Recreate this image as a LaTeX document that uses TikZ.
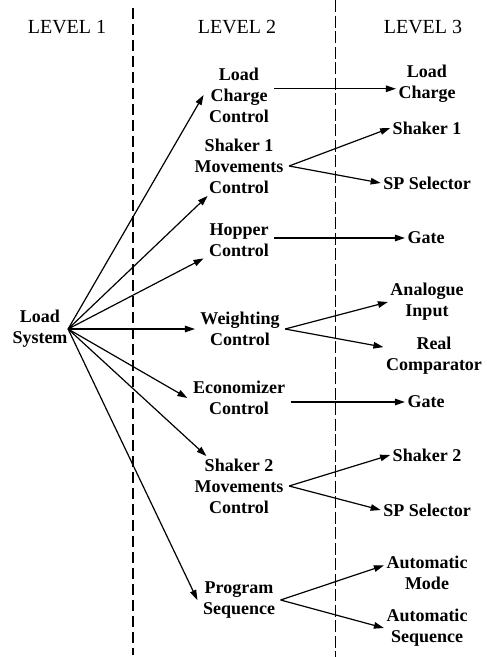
\documentclass[tikz,border=0pt]{standalone}
\usepackage{fontspec}
\setmainfont{Liberation Serif}
\usetikzlibrary{arrows.meta}

\begin{document}
\begin{tikzpicture}[
    x=1pt, y=-1pt,
    every path/.style={line width=1.2pt},
    lvlhead/.style={font=\fontsize{20}{24}\selectfont, inner sep=0pt},
    blk/.style={align=center, font=\bfseries\fontsize{18}{21}\selectfont, inner xsep=5pt, inner ysep=2pt},
    leaf/.style={blk, inner xsep=2pt},
    arr/.style={-{Triangle[length=10pt,width=6.5pt]}}
]
\useasboundingbox (0,0) rectangle (487,657);

    % level borders
    \draw [line width=2.4pt, dash pattern=on 11pt off 5pt] (133,8) -- (133,655);
    \draw [line width=0.9pt, dash pattern=on 12pt off 3.5pt] (335,0) -- (335,657);

    \node [lvlhead] (hd1) at (67,27) {LEVEL 1};
    \node [lvlhead] (hd2) at (237,27) {LEVEL 2};
    \node [lvlhead] (hd3) at (423,27) {LEVEL 3};

    \node [blk, inner xsep=0pt] (ls) at (40,329) {Load\\System};

    \node [blk] (lcc) at (239,95) {Load\\Charge\\Control};
    \node [blk] (s1m) at (239,166) {Shaker 1\\Movements\\Control};
    \node [blk] (hc) at (239,240) {Hopper\\Control};
    \node [blk] (wc) at (240,329) {Weighting\\Control};
    \node [blk] (ec) at (239,398) {Economizer\\Control};
    \node [blk] (s2m) at (239,486) {Shaker 2\\Movements\\Control};
    \node [blk] (ps) at (239,600) {Program\\Sequence};

    \node [leaf] (lc) at (427,84) {Load\\Charge};
    \node [leaf] (sh1) at (427,128) {Shaker 1};
    \node [leaf] (sp1) at (427,183) {SP Selector};
    \node [leaf] (g1) at (426,238) {Gate};
    \node [leaf] (ai) at (427,302) {Analogue\\Input};
    \node [leaf] (rc) at (434,356) {Real\\Comparator};
    \node [leaf] (g2) at (426,402) {Gate};
    \node [leaf] (sh2) at (427,455) {Shaker 2};
    \node [leaf] (sp2) at (427,510) {SP Selector};
    \node [leaf] (am) at (427,573) {Automatic\\Mode};
    \node [leaf] (asq) at (427,628) {Automatic\\Sequence};

    % level 1 -> level 2
    \draw [arr] (ls.east) -- (lcc.west);
    \draw [arr] (ls.east) -- (s1m);
    \draw [arr] (ls.east) -- (hc);
    \draw [arr] (ls.east) -- (wc.west);
    \draw [arr] (ls.east) -- (ec.west);
    \draw [arr] (ls.east) -- (s2m);
    \draw [arr] (ls.east) -- (ps.west);

    % level 2 -> level 3
    \draw [arr] (lcc.10) -- (lcc.10 -| lc.west);
    \draw [arr] (s1m.east) -- (sh1.west);
    \draw [arr] (s1m.east) -- (sp1.west);
    \draw [arr] (hc.east |- g1) -- (g1.west);
    \draw [arr] (wc.east) -- (ai.west);
    \draw [arr] (wc.east) -- (rc.170);
    \draw [arr] (ec.east |- g2) -- (g2.west);
    \draw [arr] (s2m.east) -- (sh2.west);
    \draw [arr] (s2m.east) -- (sp2.west);
    \draw [arr] (ps.east) -- (am.170);
    \draw [arr] (ps.east) -- (asq.west);
\end{tikzpicture}
\end{document}
